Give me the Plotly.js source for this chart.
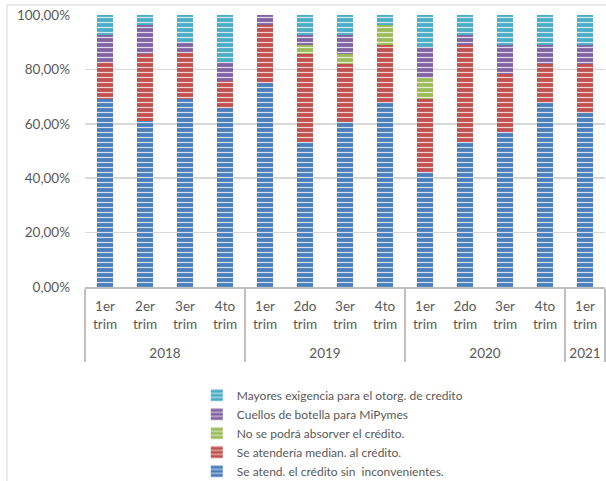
<!DOCTYPE html>
<html>
<head>
<meta charset="utf-8">
<script src="https://cdn.plot.ly/plotly-3.0.1.min.js"></script>
<style>html,body{margin:0;padding:0;background:#fff;}#chart{width:606px;height:481px;}</style>
</head>
<body>
<div id="chart"></div>
<script>
var years = ["2018","2018","2018","2018","2019","2019","2019","2019","2020","2020","2020","2020","2021"];
var quarters = ["1er","2er","3er","4to","1er","2do","3er","4to","1er","2do","3er","4to","1er"];
// order in which the quarter labels must be known by the axis
var quarterOrder = ["1er","2do","2er","3er","4to"];
var quarterOrderYears = ["2018","2019","2018","2018","2018"];

var sinInconv   = [69.1, 61.1, 69.0, 65.7, 74.9, 53.4, 60.8, 67.8, 42.4, 53.4, 57.1, 67.8, 63.9];
var mediaCred   = [13.6, 24.4, 17.1, 10.0, 21.4, 32.1, 21.1, 21.2, 26.6, 35.6, 21.3, 14.1, 18.0];
var noAbsorber  = [0.0, 0.0, 0.0, 0.0, 0.0, 3.5, 3.6, 7.3, 8.0, 0.0, 0.0, 0.0, 0.0];
var cuellos     = [9.9, 10.8, 3.7, 7.1, 3.7, 3.6, 7.1, 0.0, 11.4, 3.6, 10.6, 7.1, 7.1];
var mayores     = [7.4, 3.7, 10.2, 17.2, 0.0, 7.4, 7.4, 3.7, 11.6, 7.4, 11.0, 11.0, 11.0];

var names = [
  "Se atend. el crédito sin  inconvenientes.",
  "Se atendería median. al crédito.",
  "No se podrá absorver el crédito.",
  "Cuellos de botella para MiPymes",
  "Mayores exigencia para el otorg. de credito"
];
var colors = ["#4a7ebb", "#c0504d", "#9bbb59", "#8064a2", "#4bacc6"];
var series = [sinInconv, mediaCred, noAbsorber, cuellos, mayores];

function lbl(q){ return q + "<br>trim<br>\u00a0"; }
var qLabels = quarters.map(lbl);

var traces = [{
  type: "bar",
  x: [quarterOrderYears, quarterOrder.map(lbl)],
  y: quarterOrder.map(function(){ return null; }),
  showlegend: false,
  hoverinfo: "skip"
}];

series.forEach(function(vals, i){
  traces.push({
    type: "bar",
    name: names[i],
    x: [years, qLabels],
    y: vals,
    marker: {
      color: colors[i],
      line: {width: 0},
      pattern: {shape: "-", fgcolor: "rgba(255,255,255,0.75)", bgcolor: colors[i], size: 5, solidity: 0.25, fillmode: "replace"}
    },
    hoverinfo: "y+name"
  });
});

var layout = {
  width: 606, height: 481,
  margin: {l: 85, r: 1, t: 15, b: 194, autoexpand: false},
  barmode: "stack",
  bargap: 0.6,
  separators: ",.",
  paper_bgcolor: "#ffffff",
  plot_bgcolor: "#ffffff",
  font: {family: "Lato, 'Open Sans', sans-serif", size: 13.5, color: "#595959"},
  showlegend: true,
  legend: {
    traceorder: "reversed",
    x: 0.215, xanchor: "left",
    y: -0.345, yanchor: "top",
    font: {size: 12, color: "#595959"},
    bgcolor: "rgba(0,0,0,0)",
    tracegroupgap: 0,
    itemwidth: 30
  },
  yaxis: {
    range: [0, 100],
    dtick: 20,
    tickformat: ".2f",
    ticksuffix: "%",
    showgrid: true,
    gridcolor: "#d9d9d9",
    gridwidth: 1.5,
    zeroline: false,
    showline: false,
    ticks: "",
    ticklabelstandoff: 14,
    fixedrange: true
  },
  xaxis: {
    type: "multicategory",
    showline: true,
    linecolor: "#bfbfbf",
    linewidth: 2,
    ticks: "",
    ticklabelstandoff: 6,
    showdividers: true,
    dividercolor: "#bfbfbf",
    dividerwidth: 2,
    tickfont: {size: 13.5, color: "#595959"},
    fixedrange: true
  },
  shapes: [
    {type: "rect", xref: "paper", yref: "paper", x0: -0.15, x1: 1.05, y0: -0.8, y1: 1.037,
     line: {color: "#d9d9d9", width: 1}, fillcolor: "rgba(0,0,0,0)", layer: "below"}
  ]
};

Plotly.newPlot("chart", traces, layout, {displayModeBar: false, staticPlot: true});
</script>
</body>
</html>
